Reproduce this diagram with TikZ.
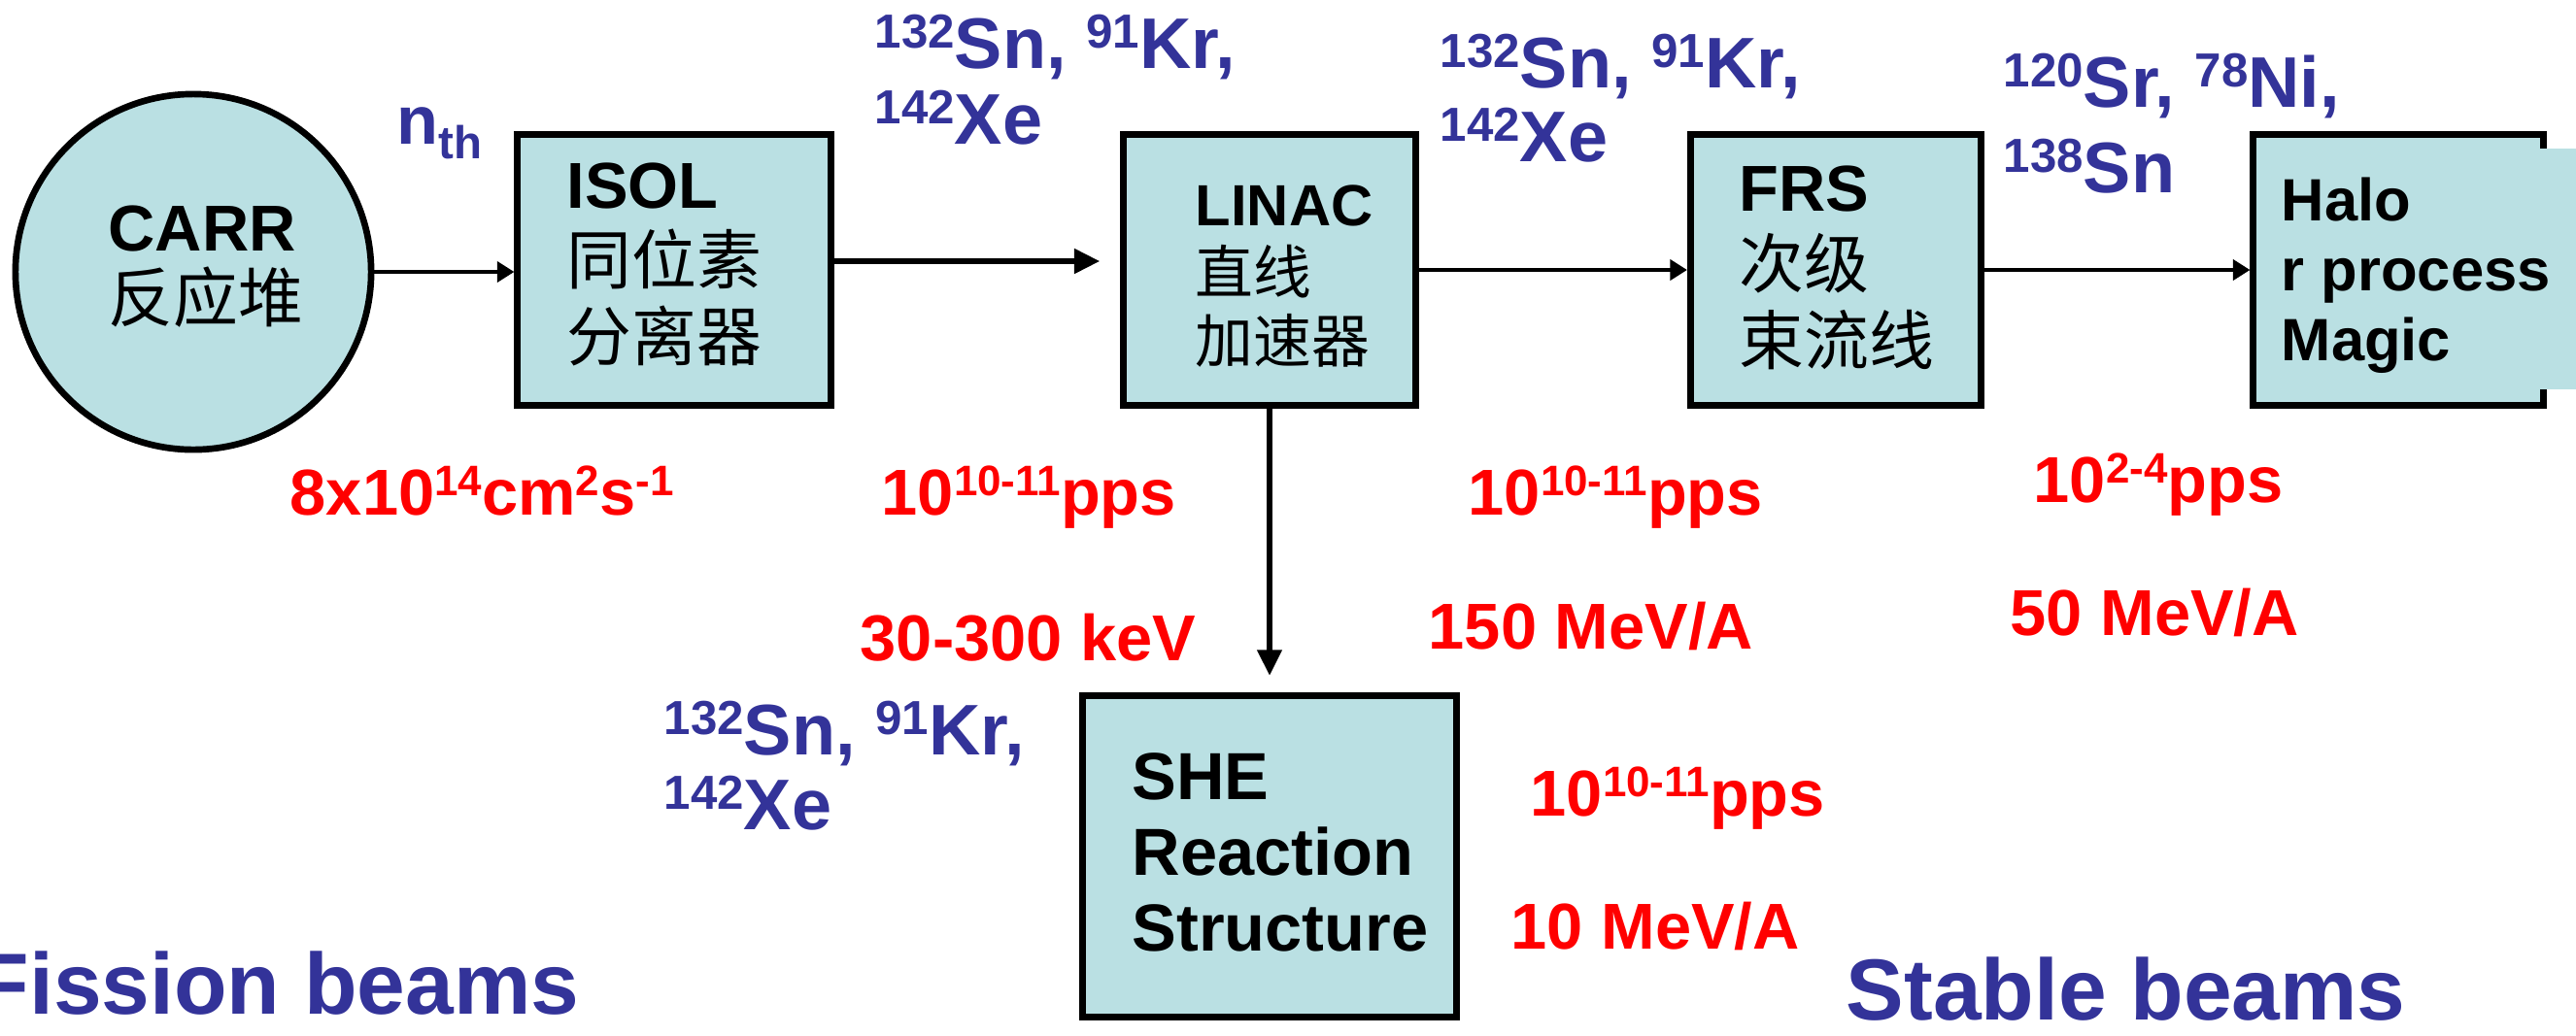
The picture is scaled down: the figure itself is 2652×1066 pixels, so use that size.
\documentclass[tikz,border=0pt]{standalone}
\usepackage{fontspec}
\setmainfont{Liberation Sans}
\newfontfamily\cjk{Noto Sans CJK SC}
\definecolor{beamBlue}{RGB}{51,51,153}
\definecolor{rateRed}{RGB}{255,0,0}
\definecolor{boxCyan}{RGB}{186,224,227}
\usetikzlibrary{arrows.meta}
\newcommand{\massno}[1]{\raisebox{6pt}{\fontsize{14}{14}\selectfont #1}}
\newcommand{\expo}[1]{\raisebox{5.5pt}{\fontsize{12.5}{12.5}\selectfont #1}}
\newcommand{\zh}[1]{{\cjk\mdseries #1}}

\begin{document}
\begin{tikzpicture}[x=0.01cm, y=-0.01cm,
  unit/.style={draw, line width=2pt, fill=boxCyan, inner sep=0pt, minimum height=2.78cm},
  unitText/.style={anchor=north west, inner sep=0pt, align=left},
  beamText/.style={anchor=north west, inner sep=0pt, align=left, text=beamBlue},
  rateText/.style={anchor=base west, inner sep=0pt, text=rateRed, font=\bfseries\fontsize{19}{22}\selectfont},
  thinFlow/.style={-{Triangle[length=5pt, width=6pt]}, line width=1.1pt},
  thickFlow/.style={-{Triangle[length=7.5pt, width=7pt]}, line width=1.7pt}]
  \useasboundingbox (0,0) rectangle (2652,1066);
  \clip (0,0) rectangle (2652,1066);

  % reactor and beam line units
  \node[circle, draw, line width=1.9pt, fill=boxCyan, inner sep=0pt, minimum size=3.66cm] (carr) at (199,280) {};
  \node[unit, minimum width=3.22cm] (isol) at (694,278) {};
  \node[unit, minimum width=3.00cm] (linac) at (1307,278) {};
  \node[unit, minimum width=2.99cm] (frs) at (1890,278) {};
  \node[unit, minimum width=2.98cm] (halo) at (2469,278) {};
  \node[unit, minimum width=3.84cm, minimum height=3.30cm] (she) at (1307,882) {};
  \fill[boxCyan] (2400,153) rectangle (2652,401);

  % beam transport
  \draw[thinFlow] (carr.east) -- (carr.east -| isol.west);
  \draw[thickFlow, shorten >=6pt] ([yshift=0.09cm]isol.east) -- ([yshift=0.09cm]linac.west);
  \draw[thinFlow] (linac) -- (frs);
  \draw[thinFlow] (frs) -- (halo);
  \draw[thickFlow, line width=1.5pt, shorten >=5pt] (linac) -- (she);

  \node[unitText, font=\bfseries\fontsize{19}{20.8}\selectfont] (carrText) at (111,211)
    {CARR\\\zh{反应堆}};
  \node[unitText, font=\bfseries\fontsize{19}{22.3}\selectfont] (isolText) at (583,167)
    {ISOL\\\zh{同位素}\\\zh{分离器}};
  \node[unitText, font=\bfseries\fontsize{17}{20}\selectfont] (linacText) at (1230,190)
    {LINAC\\\zh{直线}\\\zh{加速器}};
  \node[unitText, font=\bfseries\fontsize{19}{22.5}\selectfont] (frsText) at (1790,170)
    {FRS\\\zh{次级}\\\zh{束流线}};
  \node[unitText, font=\bfseries\fontsize{17.5}{20.5}\selectfont] (haloText) at (2348,182)
    {Halo\\r process\\Magic};
  \node[unitText, font=\bfseries\fontsize{19.5}{22.2}\selectfont] (sheText) at (1165,775)
    {SHE\\Reaction\\Structure};

  % beam species
  \node[anchor=base west, inner sep=0pt, text=beamBlue, font=\bfseries\fontsize{20}{24}\selectfont] (nth) at (408,148)
    {n\raisebox{-4.3pt}{\fontsize{13.5}{13.5}\selectfont th}};
  \node[beamText, font=\bfseries\fontsize{21}{22.2}\selectfont] (beamIsol) at (900,14)
    {\massno{132}Sn, \massno{91}Kr,\\\massno{142}Xe};
  \node[beamText, font=\bfseries\fontsize{21}{21.6}\selectfont] (beamLinac) at (1482,34)
    {\massno{132}Sn, \massno{91}Kr,\\\massno{142}Xe};
  \node[beamText, font=\bfseries\fontsize{21}{25}\selectfont] (beamFrs) at (2062,54)
    {\massno{120}Sr, \massno{78}Ni,\\\massno{138}Sn};
  \node[beamText, font=\bfseries\fontsize{21}{21.9}\selectfont] (beamShe) at (683,721)
    {\massno{132}Sn, \massno{91}Kr,\\\massno{142}Xe};

  % intensities and energies
  \node[rateText] (fluxCarr) at (298,530) {8x10\expo{14}cm\expo{2}s\expo{-1}};
  \node[rateText] (rateIsol) at (907,530) {10\expo{10-11}pps};
  \node[rateText] (rateLinac) at (1511,530) {10\expo{10-11}pps};
  \node[rateText] (rateFrs) at (2093,517) {10\expo{2-4}pps};
  \node[rateText] (energyIsol) at (885,680) {30-300 keV};
  \node[rateText] (energyLinac) at (1470,668) {150 MeV/A};
  \node[rateText] (energyFrs) at (2069,654) {50 MeV/A};
  \node[rateText] (rateShe) at (1575,840) {10\expo{10-11}pps};
  \node[rateText] (energyShe) at (1555,977) {10 MeV/A};

  \node[anchor=base west, inner sep=0pt, text=beamBlue, font=\bfseries\fontsize{25.4}{30}\selectfont] (fission) at (-25,1044)
    {Fission beams};
  \node[anchor=base west, inner sep=0pt, text=beamBlue, font=\bfseries\fontsize{25.4}{30}\selectfont] (stable) at (1900,1050)
    {Stable beams};
\end{tikzpicture}
\end{document}
